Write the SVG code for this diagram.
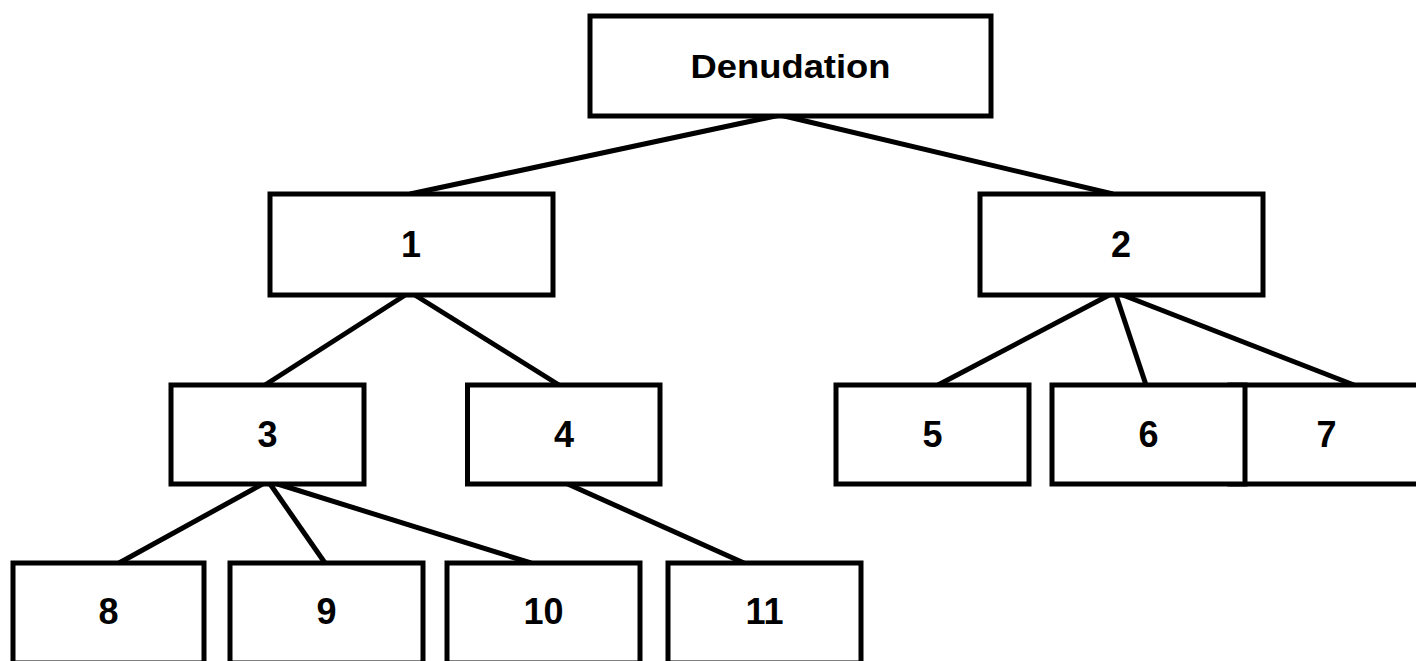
<svg xmlns="http://www.w3.org/2000/svg" width="1416" height="661" viewBox="0 0 1416 661">
<style>
.box{fill:#fff;stroke:#000;stroke-width:5}
.lbl{font-family:"Liberation Sans",Arial,sans-serif;font-weight:bold;font-size:36px;text-anchor:middle;fill:#000}
.con{stroke:#000;stroke-width:5;fill:none;stroke-linecap:butt}
</style>
<rect width="1416" height="661" fill="#fff"/>
<g id="connectors">
<line class="con" x1="780" y1="115" x2="410" y2="194"/>
<line class="con" x1="780" y1="115" x2="1113" y2="194"/>
<line class="con" x1="410" y1="292" x2="265" y2="385"/>
<line class="con" x1="410" y1="292" x2="559" y2="385"/>
<line class="con" x1="1115" y1="292" x2="938" y2="385"/>
<line class="con" x1="1115" y1="292" x2="1146" y2="385"/>
<line class="con" x1="1115" y1="292" x2="1354" y2="385"/>
<line class="con" x1="268" y1="481" x2="119" y2="563"/>
<line class="con" x1="268" y1="481" x2="325" y2="563"/>
<line class="con" x1="268" y1="481" x2="531" y2="563"/>
<line class="con" x1="561" y1="481" x2="744" y2="563"/>
</g>
<g id="node-denudation"><rect class="box" x="590" y="16" width="401" height="100"/><text class="lbl" x="790.5" y="78" style="font-size:33px" textLength="200" lengthAdjust="spacingAndGlyphs">Denudation</text></g>
<g id="node-1"><rect class="box" x="270" y="194" width="283" height="101"/><text class="lbl" x="411" y="257">1</text></g>
<g id="node-2"><rect class="box" x="980" y="194" width="283" height="101"/><text class="lbl" x="1121" y="257">2</text></g>
<g id="node-3"><rect class="box" x="171" y="385" width="193" height="99"/><text class="lbl" x="267.5" y="447">3</text></g>
<g id="node-4"><rect class="box" x="467.5" y="385" width="192.5" height="99"/><text class="lbl" x="564" y="447">4</text></g>
<g id="node-5"><rect class="box" x="836" y="385" width="193" height="99"/><text class="lbl" x="932.5" y="447">5</text></g>
<g id="node-7"><rect class="box" x="1230" y="385" width="193" height="99"/><text class="lbl" x="1326.5" y="447">7</text></g>
<g id="node-6"><rect class="box" x="1052" y="385" width="193" height="99"/><text class="lbl" x="1148.5" y="447">6</text></g>
<g id="node-8"><rect class="box" x="13" y="563" width="191" height="100"/><text class="lbl" x="108.5" y="624">8</text></g>
<g id="node-9"><rect class="box" x="230" y="563" width="193" height="100"/><text class="lbl" x="326.5" y="624">9</text></g>
<g id="node-10"><rect class="box" x="447" y="563" width="193" height="100"/><text class="lbl" x="543.5" y="624">10</text></g>
<g id="node-11"><rect class="box" x="668" y="563" width="193" height="100"/><text class="lbl" x="764.5" y="624">11</text></g>
</svg>
